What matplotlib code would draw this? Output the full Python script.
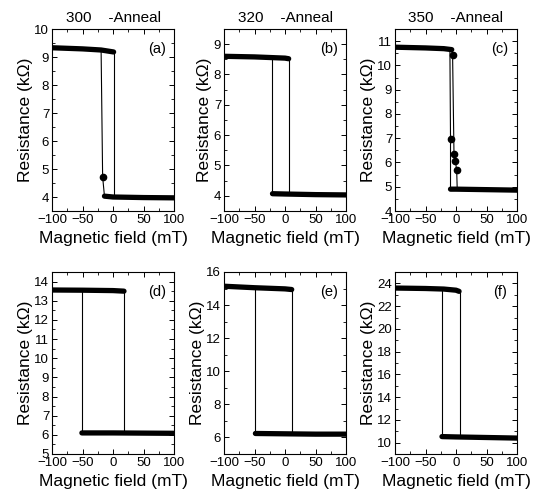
import matplotlib.pyplot as plt
from matplotlib.ticker import MultipleLocator

plt.rcParams['font.family'] = ['Liberation Sans', 'DejaVu Sans']

# panel (a) 300 anneal
a_high_x = [-100, -50, -19.5, 1]
a_high_y = [9.33, 9.29, 9.25, 9.18]
a_low_x = [-14, 0, 50, 100]
a_low_y = [4.03, 4.0, 3.98, 3.97]
a_down_x = [-14, -17, -19.5]
a_down_y = [4.03, 4.72, 9.25]
a_up_x = [1, 1]
a_up_y = [9.18, 4.0]
a_dot_x = [-17]
a_dot_y = [4.72]

# panel (b) 320 anneal
b_high_x = [-100, -50, 0, 6]
b_high_y = [8.6, 8.58, 8.54, 8.52]
b_low_x = [-20.5, 0, 50, 100]
b_low_y = [4.07, 4.06, 4.04, 4.03]
b_down_x = [-20.5, -20.5]
b_down_y = [4.07, 8.56]
b_up_x = [6.5, 6.5]
b_up_y = [8.52, 4.06]
b_dot_x = []
b_dot_y = []

# panel (c) 350 anneal
c_high_x = [-100, -50, -20, -7]
c_high_y = [10.75, 10.72, 10.69, 10.65]
c_low_x = [-9, 0, 50, 100]
c_low_y = [4.9, 4.9, 4.88, 4.86]
c_down_x = [-9, -9, -10]
c_down_y = [4.9, 6.97, 10.68]
c_up_x = [-7, -5.6, -3.3, -1.1, 1.1, 2]
c_up_y = [10.65, 10.44, 6.35, 6.07, 5.69, 4.9]
c_dot_x = [-9, -5.6, -3.3, -1.1, 1.1]
c_dot_y = [6.97, 10.44, 6.35, 6.07, 5.69]

# panel (d)
d_high_x = [-100, -50, 0, 18]
d_high_y = [13.56, 13.55, 13.53, 13.5]
d_low_x = [-51, 0, 50, 100]
d_low_y = [6.1, 6.1, 6.09, 6.08]
d_down_x = [-51, -51]
d_down_y = [6.1, 13.55]
d_up_x = [18.5, 18.5]
d_up_y = [13.5, 6.09]

# panel (e)
e_high_x = [-100, -50, 0, 11]
e_high_y = [15.14, 15.05, 14.98, 14.94]
e_low_x = [-48.5, 0, 50, 100]
e_low_y = [6.24, 6.22, 6.2, 6.2]
e_down_x = [-49, -49]
e_down_y = [6.24, 15.05]
e_up_x = [11.5, 11.5]
e_up_y = [14.94, 6.2]

# panel (f)
f_high_x = [-100, -50, -20, 0, 5]
f_high_y = [23.59, 23.55, 23.5, 23.4, 23.3]
f_low_x = [-23, 0, 50, 100]
f_low_y = [10.53, 10.5, 10.45, 10.4]
f_down_x = [-22.5, -22.5]
f_down_y = [10.53, 23.5]
f_up_x = [6.5, 6.5]
f_up_y = [23.3, 10.5]

titles = ['300    -Anneal', '320    -Anneal', '350    -Anneal', None, None, None]
tags = ['(a)', '(b)', '(c)', '(d)', '(e)', '(f)']
ylims = [(3.5, 10), (3.5, 9.5), (4, 11.5), (5, 14.5), (5, 16), (9, 25)]
ymajor = [1, 1, 1, 1, 2, 2]

panels = [
    (a_high_x, a_high_y, a_low_x, a_low_y, a_down_x, a_down_y, a_up_x, a_up_y, a_dot_x, a_dot_y),
    (b_high_x, b_high_y, b_low_x, b_low_y, b_down_x, b_down_y, b_up_x, b_up_y, b_dot_x, b_dot_y),
    (c_high_x, c_high_y, c_low_x, c_low_y, c_down_x, c_down_y, c_up_x, c_up_y, c_dot_x, c_dot_y),
    (d_high_x, d_high_y, d_low_x, d_low_y, d_down_x, d_down_y, d_up_x, d_up_y, [], []),
    (e_high_x, e_high_y, e_low_x, e_low_y, e_down_x, e_down_y, e_up_x, e_up_y, [], []),
    (f_high_x, f_high_y, f_low_x, f_low_y, f_down_x, f_down_y, f_up_x, f_up_y, [], []),
]

W, H = 536, 501
lefts = [52, 224, 395]
bottoms = [211, 454]
fig = plt.figure(figsize=(W / 100, H / 100), dpi=100)

for i, p in enumerate(panels):
    hx, hy, lx, ly, dx, dy, ux, uy, sx, sy = p
    left = lefts[i % 3]
    bot = bottoms[i // 3]
    ax = fig.add_axes([left / W, (H - bot) / H, 122 / W, 182 / H])
    ax.plot(dx, dy, color='black', lw=0.8)
    ax.plot(ux, uy, color='black', lw=0.8)
    ax.plot(hx, hy, color='black', lw=3.8, solid_capstyle='round')
    ax.plot(lx, ly, color='black', lw=3.8, solid_capstyle='round')
    if sx:
        ax.plot(sx, sy, 'o', color='black', ms=4.5)
    ax.set_xlim(-100, 100)
    ax.set_ylim(*ylims[i])
    ax.xaxis.set_major_locator(MultipleLocator(50))
    ax.xaxis.set_minor_locator(MultipleLocator(25))
    ax.yaxis.set_major_locator(MultipleLocator(ymajor[i]))
    ax.yaxis.set_minor_locator(MultipleLocator(ymajor[i] / 2))
    ax.tick_params(which='both', direction='in', top=True, right=True, labelsize=9.5, pad=2)
    ax.tick_params(which='major', length=3.5, width=0.7)
    ax.tick_params(which='minor', length=2, width=0.6)
    for s in ax.spines.values():
        s.set_linewidth(0.8)
    ax.set_xlabel('Magnetic field (mT)', fontsize=12.5, labelpad=4)
    ax.set_ylabel('Resistance (k\u03a9)', fontsize=12.5, labelpad=1)
    ax.text(0.86, 0.89, tags[i], transform=ax.transAxes, ha='center', va='center', fontsize=10.5)
    if titles[i]:
        ax.set_title(titles[i], fontsize=11, pad=5)

fig.savefig('out.png', dpi=100)
